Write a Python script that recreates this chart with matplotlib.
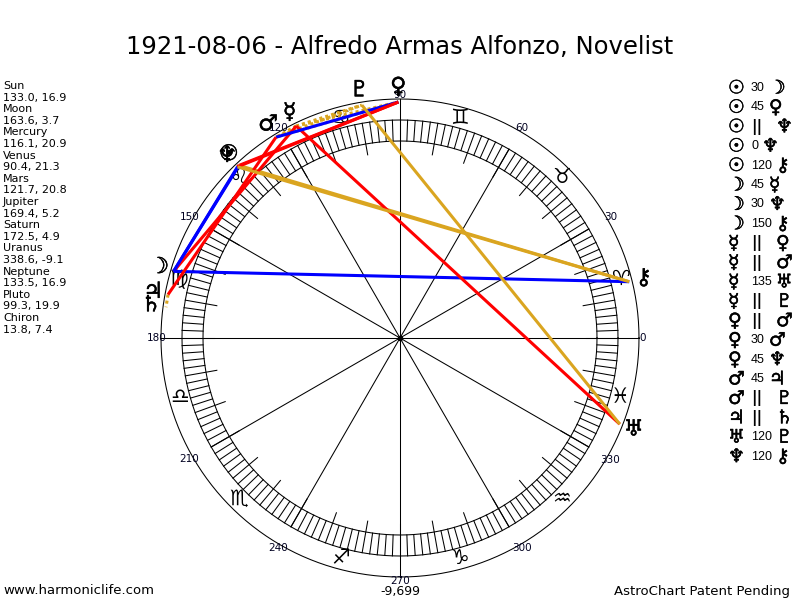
import numpy as np
import matplotlib
matplotlib.use("Agg")
import matplotlib.pyplot as plt
import matplotlib.patheffects as pe

TITLE = "1921-08-06 - Alfredo Armas Alfonzo, Novelist"

PLANETS = ["Sun", "Moon", "Mercury", "Venus", "Mars", "Jupiter", "Saturn",
           "Uranus", "Neptune", "Pluto", "Chiron"]
LONGITUDE = [133.0, 163.6, 116.1, 90.4, 121.7, 169.4, 172.5, 338.6, 133.5, 99.3, 13.8]
DECLINATION = [16.9, 3.7, 20.9, 21.3, 20.8, 5.2, 4.9, -9.1, 16.9, 19.9, 7.4]
GLYPHS = ["☉", "☽", "☿", "♀", "♂", "♃", "♄", "♅", "♆", "♇", "⚷"]

SIGNS = ["♈", "♉", "♊", "♋", "♌", "♍", "♎", "♏", "♐", "♑", "♒", "♓"]
DEGREE_LABELS = list(range(0, 360, 30))

# aspect table (right column), in the order listed
ASPECT_A = ["Sun", "Sun", "Sun", "Sun", "Sun", "Moon", "Moon", "Moon",
            "Mercury", "Mercury", "Mercury", "Mercury", "Venus", "Venus", "Venus",
            "Mars", "Mars", "Jupiter", "Uranus", "Neptune"]
ASPECT_TYPE = ["30", "45", "||", "0", "120", "45", "30", "150",
               "||", "||", "135", "||", "||", "30", "45",
               "45", "||", "||", "120", "120"]
ASPECT_B = ["Moon", "Venus", "Neptune", "Neptune", "Chiron", "Mercury", "Neptune", "Chiron",
            "Venus", "Mars", "Uranus", "Pluto", "Mars", "Mars", "Neptune",
            "Jupiter", "Pluto", "Saturn", "Pluto", "Chiron"]

ASPECT_COLORS = {"0": "#ff0000", "45": "#ff0000", "135": "#ff0000",
                 "30": "#0000ff", "150": "#0000ff",
                 "120": "#daa520", "||": "#daa520"}

FOOTER_LEFT = "www.harmoniclife.com"
FOOTER_RIGHT = "AstroChart Patent Pending"
BOTTOM_VALUE = "-9,699"

# wheel radii in pixels
R_OUTER = 239
R_BAND_OUT = 218
R_BAND_IN = 197
R_LONG_TICK = 186
R_SIGN = 228
R_LINE = 236
R_GLYPH = 251
R_LABEL = 243

FONT = "DejaVu Sans"
BOLDEN = [pe.withStroke(linewidth=0.35, foreground="black")]


def pol(r, deg):
    a = np.deg2rad(deg)
    return r * np.cos(a), r * np.sin(a)


def fx(px):
    return px / 800


def fy(py):
    return 1 - py / 600


fig = plt.figure(figsize=(8, 6), dpi=100)
fig.patch.set_facecolor("white")
ax = fig.add_axes([0, 0, 1, 1])
ax.set_xlim(-400, 400)
ax.set_ylim(-262, 338)
ax.set_aspect("equal")
ax.axis("off")

# circles
th = np.linspace(0, 360, 721)
for r in [R_OUTER, R_BAND_OUT, R_BAND_IN]:
    x, y = pol(r, th)
    ax.plot(x, y, color="black", lw=0.75, zorder=1)

# ticks in the band every 2 degrees, longer every 10
for d in range(0, 360, 2):
    r0 = R_LONG_TICK if d % 10 == 0 else R_BAND_IN
    x0, y0 = pol(r0, d)
    x1, y1 = pol(R_BAND_OUT, d)
    ax.plot([x0, x1], [y0, y1], color="black", lw=0.75, zorder=1)

# spokes
for d in DEGREE_LABELS:
    r1 = R_OUTER if d % 90 == 0 else R_BAND_OUT
    x1, y1 = pol(r1, d)
    ax.plot([0, x1], [0, y1], color="black", lw=0.75, zorder=1)
ax.plot([0], [0], "o", color="black", ms=3, zorder=1)

# degree labels
for d in DEGREE_LABELS:
    x, y = pol(R_LABEL, d)
    ax.text(x, y, str(d), fontsize=7.5, family=FONT, ha="center", va="center",
            color="#000020", zorder=2)

# sign glyphs
for i, s in enumerate(SIGNS):
    x, y = pol(R_SIGN, 15 + 30 * i)
    ax.text(x, y, s, fontsize=15, family=FONT, ha="center", va="center",
            color="black", zorder=2)

lon = dict(zip(PLANETS, LONGITUDE))
glyph = dict(zip(PLANETS, GLYPHS))

# aspect lines: parallels first (dotted), then the solid aspects
order = sorted(range(len(ASPECT_A)), key=lambda k: ASPECT_TYPE[k] != "||")
for k in order:
    a, t, b = ASPECT_A[k], ASPECT_TYPE[k], ASPECT_B[k]
    xa, ya = pol(R_LINE, lon[a])
    xb, yb = pol(R_LINE, lon[b])
    if t == "||":
        ax.plot([xa, xb], [ya, yb], color=ASPECT_COLORS[t], lw=2.2,
                linestyle=(0, (1, 1)), zorder=3)
    else:
        ax.plot([xa, xb], [ya, yb], color=ASPECT_COLORS[t], lw=2.2,
                solid_capstyle="butt", zorder=3)

# planet glyphs around the wheel
for p in PLANETS:
    x, y = pol(R_GLYPH, lon[p])
    ax.text(x, y, glyph[p], fontsize=16, family=FONT, ha="center", va="center",
            color="black", zorder=4, path_effects=BOLDEN)

# title
fig.text(fx(400), fy(47), TITLE, fontsize=17.5, family=FONT, ha="center", va="center")

# left list of positions
for i, p in enumerate(PLANETS):
    fig.text(fx(3), fy(86 + 2 * i * 11.6), p, fontsize=8, family=FONT,
             ha="left", va="center")
    fig.text(fx(3), fy(86 + (2 * i + 1) * 11.6), f"{LONGITUDE[i]:.1f}, {DECLINATION[i]:.1f}",
             fontsize=8, family=FONT, ha="left", va="center")

# right aspect table
fig.canvas.draw()
renderer = fig.canvas.get_renderer()
for i in range(len(ASPECT_A)):
    y = 88 + i * 19.4
    fig.text(fx(728), fy(y), glyph[ASPECT_A[i]], fontsize=13.5, family=FONT,
             ha="left", va="center", path_effects=BOLDEN)
    t = ASPECT_TYPE[i]
    if t == "||":
        fig.text(fx(751), fy(y), "||", fontsize=11, family=FONT, weight="bold",
                 ha="left", va="center")
        x2 = 776
    else:
        tt = fig.text(fx(751), fy(y), t, fontsize=9, family="Liberation Sans",
                      ha="left", va="center")
        x2 = tt.get_window_extent(renderer).x1 + 4
    fig.text(fx(x2), fy(y), glyph[ASPECT_B[i]], fontsize=13.5, family=FONT,
             ha="left", va="center", path_effects=BOLDEN)

# footer
fig.text(fx(3), fy(591), FOOTER_LEFT, fontsize=9.5, family=FONT, ha="left", va="center")
fig.text(fx(790), fy(591), FOOTER_RIGHT, fontsize=9.5, family=FONT, ha="right", va="center")
fig.text(fx(400), fy(591), BOTTOM_VALUE, fontsize=9, family=FONT, ha="center", va="center")

fig.savefig("out.png", dpi=100)
